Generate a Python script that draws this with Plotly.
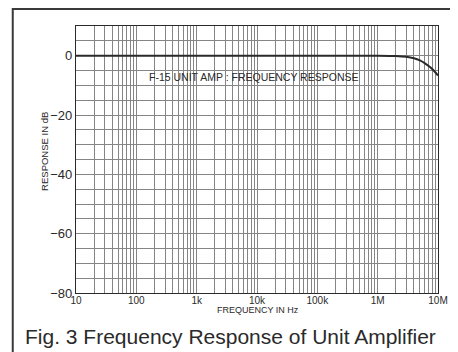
import plotly.graph_objects as go

# ---- data ----
freq_hz = [10, 100, 1e3, 1e4, 1e5, 1e6, 2e6, 3e6, 4e6, 5e6, 6e6, 7e6, 8e6, 9e6, 1e7]
response_db = [0, 0, 0, 0, 0, 0, -0.1, -0.4, -0.9, -1.6, -2.5, -3.5, -4.5, -5.6, -6.7]

decade_vals = [10, 100, 1e3, 1e4, 1e5, 1e6, 1e7]
decade_labels = ["10", "100", "1k", "10k", "100k", "1M", "10M"]
y_label_vals = [0, -20, -40, -60, -80]
y_label_text = ["0", "\u221220", "\u221240", "\u221260", "\u221280"]

title_text = "F-15 UNIT AMP : FREQUENCY RESPONSE"
x_title = "FREQUENCY IN Hz"
y_title = "RESPONSE IN dB"
caption = "Fig. 3 Frequency Response of Unit Amplifier"

# ---- build tick lists (grid at 1..9 per decade, labels at decades) ----
x_tickvals, x_ticktext = [], []
for i, d in enumerate(decade_vals[:-1]):
    for m in range(1, 10):
        x_tickvals.append(m * d)
        x_ticktext.append(decade_labels[i] if m == 1 else "")
x_tickvals.append(decade_vals[-1])
x_ticktext.append(decade_labels[-1])

y_tickvals = list(range(-80, 11, 5))
y_ticktext = [y_label_text[y_label_vals.index(v)] if v in y_label_vals else "" for v in y_tickvals]

# page has an 8px body margin: figure sized/offset so the plot lands where the reference has it
OFF = 8
W, H = 450, 344
L, T = 76 - OFF, 26 - OFF
R = W - (448 - OFF)
B = H - (293 - OFF)
PW, PH = W - L - R, H - T - B

def px(x):  # page pixel -> paper
    return (x - OFF - L) / PW

def py(y):  # page pixel -> paper
    return (H - B - (y - OFF)) / PH

FONT = "Liberation Sans, Arial, Helvetica, sans-serif"
INK = "#2a2a2a"
GRID = "#858585"

fig = go.Figure()
fig.add_trace(go.Scatter(
    x=freq_hz, y=response_db, mode="lines",
    line=dict(color=INK, width=2, shape="spline", smoothing=0.6),
    hoverinfo="skip", showlegend=False,
))

fig.update_layout(
    width=W, height=H,
    margin=dict(l=L, r=R, t=T, b=B),
    paper_bgcolor="white", plot_bgcolor="white",
    font=dict(family=FONT, color=INK),
    showlegend=False,
    xaxis=dict(
        type="log", range=[1, 7],
        tickmode="array", tickvals=x_tickvals, ticktext=x_ticktext,
        showgrid=True, gridcolor=GRID, gridwidth=1,
        showline=True, linecolor=INK, linewidth=1.2, mirror=True,
        ticks="", tickfont=dict(size=10, family=FONT, color=INK),
        ticklabelstandoff=-2,
        zeroline=False,
    ),
    yaxis=dict(
        range=[-80, 10],
        tickmode="array", tickvals=y_tickvals, ticktext=y_ticktext,
        showgrid=True, gridcolor=GRID, gridwidth=1,
        showline=True, linecolor=INK, linewidth=1.2, mirror=True,
        ticks="", tickfont=dict(size=13, family=FONT, color=INK),
        zeroline=False,
    ),
    shapes=[
        dict(type="path", xref="paper", yref="paper",
             path=f"M {px(11)} {py(400)} L {px(11)} {py(9)} L {px(470)} {py(9)}",
             line=dict(color="#3a3a3a", width=2)),
    ],
    annotations=[
        dict(text=title_text, xref="paper", yref="paper", x=px(258), y=py(77),
             xanchor="center", yanchor="middle", showarrow=False,
             font=dict(size=10.5, family=FONT, color=INK)),
        dict(text=x_title, xref="paper", yref="paper", x=px(263), y=py(309.5),
             xanchor="center", yanchor="middle", showarrow=False,
             font=dict(size=9, family=FONT, color=INK)),
        dict(text=y_title, xref="paper", yref="paper", x=px(43), y=py(151),
             xanchor="center", yanchor="middle", showarrow=False, textangle=-90,
             font=dict(size=9.5, family=FONT, color=INK)),
        dict(text=caption, xref="paper", yref="paper", x=px(22), y=py(336),
             xanchor="left", yanchor="middle", showarrow=False,
             font=dict(size=21, family=FONT, color=INK)),
    ],
)

fig.write_html("out.html")
